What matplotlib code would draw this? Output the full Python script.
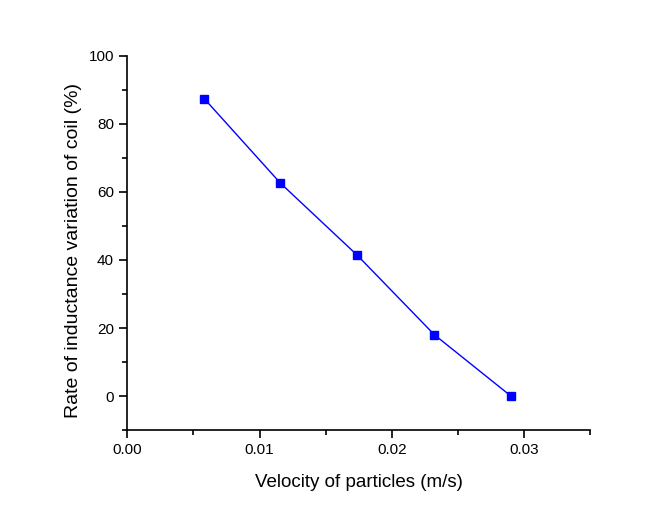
import matplotlib
matplotlib.use("Agg")
import matplotlib.pyplot as plt
from matplotlib.ticker import MultipleLocator

# data
velocity = [0.00582, 0.01157, 0.01738, 0.02322, 0.0290]
rate = [87.4, 62.6, 41.4, 18.0, 0.0]

plt.rcParams['font.family'] = ['Liberation Sans', 'DejaVu Sans']

fig = plt.figure(figsize=(6.7, 5.12), dpi=100)
ax = fig.add_axes([0.19, 0.16, 0.691, 0.731])

ax.plot(velocity, rate, color='#0000ff', linewidth=1.0,
        marker='s', markersize=6, markerfacecolor='#0000ff', markeredgecolor='#0000ff')

ax.set_xlim(0, 0.035)
ax.set_ylim(-10, 100)
ax.xaxis.set_major_locator(MultipleLocator(0.01))
ax.xaxis.set_minor_locator(MultipleLocator(0.005))
ax.yaxis.set_major_locator(MultipleLocator(20))
ax.yaxis.set_minor_locator(MultipleLocator(10))
ax.xaxis.set_major_formatter(matplotlib.ticker.FormatStrFormatter('%.2f'))

ax.spines['top'].set_visible(False)
ax.spines['right'].set_visible(False)
ax.spines['left'].set_linewidth(1.2)
ax.spines['bottom'].set_linewidth(1.2)
ax.tick_params(which='major', direction='out', length=6, width=1.2, labelsize=11)
ax.tick_params(which='minor', direction='out', length=3.5, width=1.2)

ax.set_xlabel('Velocity of particles (m/s)', fontsize=13.5, labelpad=12)
ax.set_ylabel('Rate of inductance variation of coil (%)', fontsize=14)
ax.yaxis.set_label_coords(-0.098, 0.48)

fig.savefig('out.png', dpi=100)
